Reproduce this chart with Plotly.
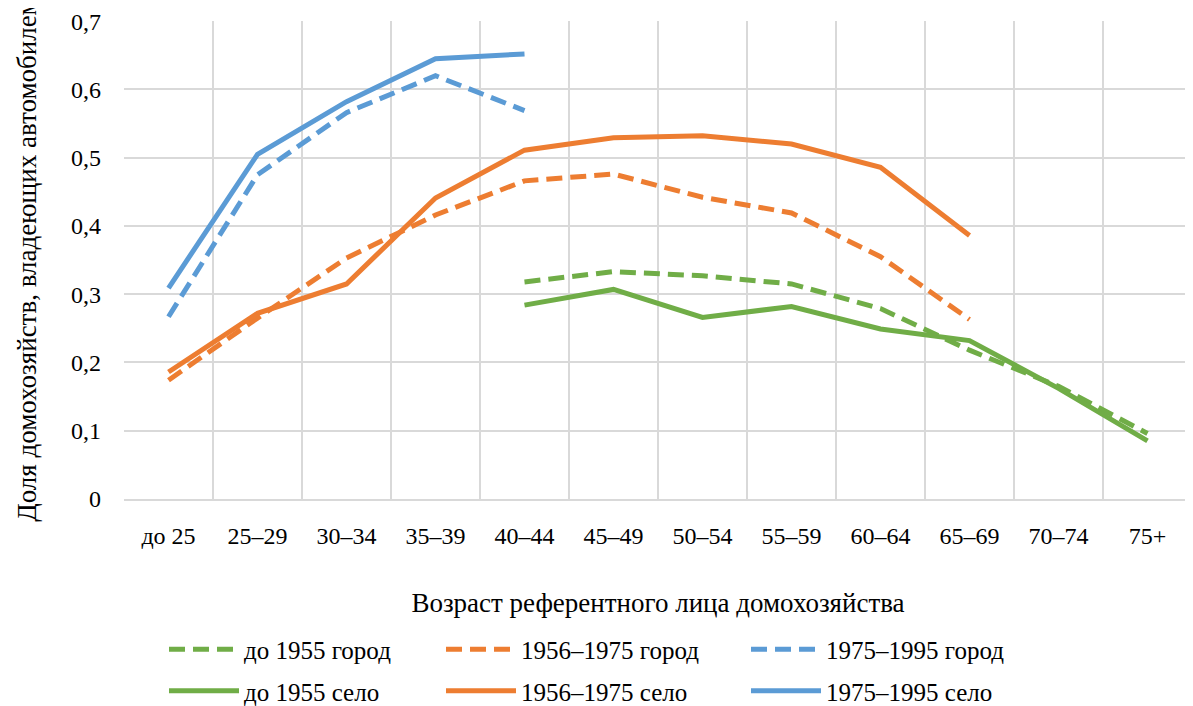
import plotly.graph_objects as go

categories = ["до 25", "25–29", "30–34", "35–39", "40–44", "45–49",
              "50–54", "55–59", "60–64", "65–69", "70–74", "75+"]

old_city = [None, None, None, None, 0.318, 0.333, 0.327, 0.315, 0.279, 0.218, 0.165, 0.096]
mid_city = [0.174, 0.265, 0.353, 0.416, 0.466, 0.476, 0.442, 0.419, 0.355, 0.263, None, None]
young_city = [0.267, 0.475, 0.566, 0.620, 0.569, None, None, None, None, None, None, None]
old_rural = [None, None, None, None, 0.284, 0.307, 0.266, 0.282, 0.249, 0.232, 0.162, 0.085]
mid_rural = [0.186, 0.272, 0.315, 0.441, 0.511, 0.529, 0.532, 0.520, 0.486, 0.386, None, None]
young_rural = [0.309, 0.505, 0.582, 0.645, 0.652, None, None, None, None, None, None, None]

y_ticks = [0, 0.1, 0.2, 0.3, 0.4, 0.5, 0.6, 0.7]

GREEN = "#70AD47"
ORANGE = "#ED7D31"
BLUE = "#5B9BD5"
FONT = "Liberation Serif"
FS_TICK = 24
FS = 25
FS_TITLE = 27
LW = 5
DASH = "16px,8px"

series = [
    ("до 1955 город", old_city, GREEN, DASH, "legend"),
    ("до 1955 село", old_rural, GREEN, "solid", "legend"),
    ("1956–1975 город", mid_city, ORANGE, DASH, "legend2"),
    ("1956–1975 село", mid_rural, ORANGE, "solid", "legend2"),
    ("1975–1995 город", young_city, BLUE, DASH, "legend3"),
    ("1975–1995 село", young_rural, BLUE, "solid", "legend3"),
]

fig = go.Figure()
for i, (name, vals, color, dash, leg) in enumerate(series):
    fig.add_trace(go.Scatter(
        x=categories, y=vals, name=name, mode="lines",
        line=dict(color=color, width=LW, dash=dash),
        legend=leg, legendgroup="g%d" % i, connectgaps=False,
    ))

# page body has an 8px margin; figure is sized to fit the visible window
OFF = 8
W, H = 1193 - OFF, 706 - OFF
L, R, T = 124 - OFF, 1, 21 - OFF
B = H - (499 - OFF)
pw = W - L - R

def px_x(x):
    return (x - OFF - L) / pw

def cont_y(y):
    return (H - (y - OFF)) / H

leg_common = dict(
    orientation="v", yanchor="middle", xanchor="left", yref="container",
    font=dict(family=FONT, size=FS, color="#000000"),
    bgcolor="rgba(0,0,0,0)", itemwidth=70, tracegroupgap=6,
)

fig.update_layout(
    width=W, height=H,
    margin=dict(l=L, r=R, t=T, b=B),
    paper_bgcolor="white", plot_bgcolor="white",
    separators=", ",
    font=dict(family=FONT),
    showlegend=True,
    legend=dict(x=px_x(164), y=cont_y(670), **leg_common),
    legend2=dict(x=px_x(441), y=cont_y(670), **leg_common),
    legend3=dict(x=px_x(746), y=cont_y(670), **leg_common),
    xaxis=dict(
        type="category", categoryorder="array", categoryarray=categories,
        range=[-0.5, len(categories) - 0.5], automargin=False,
        tickson="boundaries", showgrid=True, gridcolor="#D9D9D9", gridwidth=1.5,
        showline=True, linecolor="#D9D9D9", linewidth=1.5,
        ticks="", ticklabelstandoff=14,
        tickfont=dict(family=FONT, size=FS_TICK, color="#000000"),
        title=dict(text="Возраст референтного лица домохозяйства",
                   font=dict(family=FONT, size=FS_TITLE, color="#000000"), standoff=46),
        zeroline=False,
    ),
    yaxis=dict(
        range=[0, 0.7002], tickvals=y_ticks, automargin=False,
        showgrid=True, gridcolor="#D9D9D9", gridwidth=1.5,
        showline=False, zeroline=False, ticks="", ticklabelstandoff=22,
        tickfont=dict(family=FONT, size=FS_TICK, color="#000000"),
        title=dict(text="Доля домохозяйств, владеющих автомобилем",
                   font=dict(family=FONT, size=FS_TITLE, color="#000000"), standoff=26),
    ),
)

fig.write_html("out.html")
